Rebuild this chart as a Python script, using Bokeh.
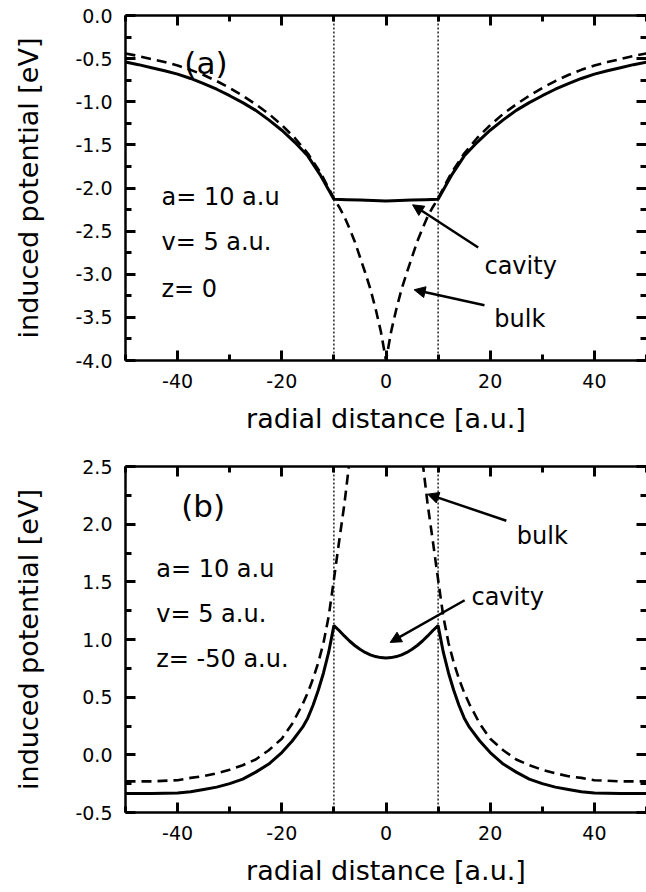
from bokeh.plotting import figure
from bokeh.models import (LinearAxis, FixedTicker, Range1d, Arrow, NormalHead,
                          Span, Label)
from bokeh.layouts import column
from bokeh.embed import file_html
from bokeh.resources import INLINE

FONT = "DejaVu Sans"

# cavity radius a [a.u.]
cavity_radius = 10

# ---- panel (a): z = 0 ----
xa_cavity = [-50, -47.5, -45, -42.5, -40, -37.5, -35, -32.5, -30, -27.5, -25, -22.5,
             -20, -17.5, -15, -12.5, -10, -7.5, -5, -2.5, 0, 2.5, 5, 7.5, 10, 12.5,
             15, 17.5, 20, 22.5, 25, 27.5, 30, 32.5, 35, 37.5, 40, 42.5, 45, 47.5, 50]
ya_cavity = [-0.54, -0.57, -0.605, -0.64, -0.68, -0.73, -0.79, -0.855, -0.93, -1.01,
             -1.10, -1.21, -1.33, -1.47, -1.63, -1.86, -2.13, -2.135, -2.14, -2.145,
             -2.15, -2.145, -2.14, -2.135, -2.13, -1.86, -1.63, -1.47, -1.33, -1.21,
             -1.10, -1.01, -0.93, -0.855, -0.79, -0.73, -0.68, -0.64, -0.605, -0.57,
             -0.54]

xa_bulk = [-50, -47.5, -45, -42.5, -40, -37.5, -35, -32.5, -30, -27.5, -25, -22.5,
           -20, -17.5, -15, -12.5, -10, -9, -8, -7, -6, -5, -4, -3, -2, -1, -0.5, 0,
           0.5, 1, 2, 3, 4, 5, 6, 7, 8, 9, 10, 12.5, 15, 17.5, 20, 22.5, 25, 27.5,
           30, 32.5, 35, 37.5, 40, 42.5, 45, 47.5, 50]
ya_bulk = [-0.44, -0.47, -0.505, -0.54, -0.58, -0.63, -0.69, -0.76, -0.84, -0.93,
           -1.03, -1.14, -1.27, -1.42, -1.60, -1.83, -2.12, -2.22, -2.33, -2.47,
           -2.62, -2.80, -2.98, -3.17, -3.40, -3.66, -3.83, -4.0, -3.83, -3.66,
           -3.40, -3.17, -2.98, -2.80, -2.62, -2.47, -2.33, -2.22, -2.12, -1.83,
           -1.60, -1.42, -1.27, -1.14, -1.03, -0.93, -0.84, -0.76, -0.69, -0.63,
           -0.58, -0.54, -0.505, -0.47, -0.44]

# ---- panel (b): z = -50 a.u. ----
xb_cavity = [-50, -45, -40, -37.5, -35, -32.5, -30, -27.5, -25, -22.5, -20, -18, -16,
             -15, -14, -13, -12, -11, -10, -9, -8, -7, -6, -5, -4, -3, -2, -1, 0,
             1, 2, 3, 4, 5, 6, 7, 8, 9, 10, 11, 12, 13, 14, 15, 16, 18, 20, 22.5,
             25, 27.5, 30, 32.5, 35, 37.5, 40, 45, 50]
yb_cavity = [-0.335, -0.335, -0.33, -0.32, -0.30, -0.28, -0.25, -0.21, -0.15, -0.08,
             0.02, 0.12, 0.24, 0.32, 0.43, 0.56, 0.71, 0.89, 1.12, 1.078, 1.031, 0.987,
             0.948, 0.915, 0.888, 0.867, 0.852, 0.843, 0.84, 0.843, 0.852, 0.867,
             0.888, 0.915, 0.948, 0.987, 1.031, 1.078, 1.12, 0.89, 0.71, 0.56, 0.43,
             0.32, 0.24, 0.12, 0.02, -0.08, -0.15, -0.21, -0.25, -0.28, -0.30, -0.32,
             -0.33, -0.335, -0.335]

xb_bulk = [-50, -45, -40, -37.5, -35, -32.5, -30, -27.5, -25, -22.5, -20, -18, -16,
           -15, -14, -13, -12, -11, -10, -9, -8, -7, -6, 6, 7, 8, 9, 10, 11, 12,
           13, 14, 15, 16, 18, 20, 22.5, 25, 27.5, 30, 32.5, 35, 37.5, 40, 45, 50]
yb_bulk = [-0.23, -0.23, -0.22, -0.20, -0.185, -0.16, -0.13, -0.09, -0.04, 0.04,
           0.14, 0.27, 0.44, 0.54, 0.66, 0.80, 0.97, 1.20, 1.52, 1.85, 2.17, 2.55,
           3.0, 3.0, 2.55, 2.17, 1.85, 1.52, 1.20, 0.97, 0.80, 0.66, 0.54, 0.44,
           0.27, 0.14, 0.04, -0.04, -0.09, -0.13, -0.16, -0.185, -0.20, -0.22,
           -0.23, -0.23]

# ---- ticks ----
x_ticks = [-40, -20, 0, 20, 40]
x_minor = [-50, -30, -10, 10, 30, 50]
x_labels = ["-40", "-20", "0", "20", "40"]

ya_ticks = [0.0, -0.5, -1.0, -1.5, -2.0, -2.5, -3.0, -3.5, -4.0]
ya_minor = [-0.25, -0.75, -1.25, -1.75, -2.25, -2.75, -3.25, -3.75]
ya_labels = ["0.0", "-0.5", "-1.0", "-1.5", "-2.0", "-2.5", "-3.0", "-3.5", "-4.0"]

yb_ticks = [2.5, 2.0, 1.5, 1.0, 0.5, 0.0, -0.5]
yb_minor = [2.25, 1.75, 1.25, 0.75, 0.25, -0.25]
yb_labels = ["2.5", "2.0", "1.5", "1.0", "0.5", "0.0", "-0.5"]


def style_axis(ax, show_labels):
    ax.axis_line_width = 2.5
    ax.axis_line_color = "black"
    ax.major_tick_in = 10
    ax.major_tick_out = 0
    ax.minor_tick_in = 6
    ax.minor_tick_out = 0
    ax.major_tick_line_width = 3
    ax.minor_tick_line_width = 3
    ax.major_tick_line_color = "black"
    ax.minor_tick_line_color = "black"
    if show_labels:
        ax.major_label_text_font = FONT
        ax.major_label_text_font_size = "19px"
        ax.major_label_text_color = "black"
        ax.major_label_standoff = 13
        ax.axis_label_text_font = FONT
        ax.axis_label_text_font_size = "27px"
        ax.axis_label_text_font_style = "normal"
        ax.axis_label_text_color = "black"
    else:
        # mirror axes carry ticks only
        ax.major_label_text_font_size = "1px"
        ax.major_label_text_color = None
        ax.major_label_standoff = 0


def make_panel(height, top, bottom, y_lo, y_hi, yt, ym, ylab):
    p = figure(width=646, height=height, output_backend="svg", toolbar_location=None,
               x_range=Range1d(-50, 50), y_range=Range1d(y_lo, y_hi),
               x_axis_location=None, y_axis_location=None,
               min_border_left=125, min_border_right=0,
               min_border_top=top, min_border_bottom=bottom)
    p.outline_line_color = None
    p.grid.visible = False
    p.background_fill_color = "white"
    p.border_fill_color = "white"

    xt = FixedTicker(ticks=x_ticks, minor_ticks=x_minor)
    ytk = FixedTicker(ticks=yt, minor_ticks=ym)

    bottom_ax = LinearAxis(ticker=xt, axis_label="radial distance [a.u.]",
                           major_label_overrides=dict(zip(x_ticks, x_labels)))
    style_axis(bottom_ax, True)
    bottom_ax.axis_label_standoff = 12
    p.add_layout(bottom_ax, "below")

    left_ax = LinearAxis(ticker=ytk, axis_label="induced potential [eV]",
                         major_label_overrides=dict(zip(yt, ylab)))
    style_axis(left_ax, True)
    left_ax.axis_label_standoff = 28
    p.add_layout(left_ax, "left")

    top_ax = LinearAxis(ticker=xt)
    style_axis(top_ax, False)
    p.add_layout(top_ax, "above")

    right_ax = LinearAxis(ticker=ytk)
    style_axis(right_ax, False)
    right_ax.axis_line_color = None
    p.add_layout(right_ax, "right")

    for xv in (-cavity_radius, cavity_radius):
        p.add_layout(Span(location=xv, dimension="height", line_color="black",
                          line_width=1.3, line_dash="2 2"))
    return p


def label(p, x, y, text, size):
    p.add_layout(Label(x=x, y=y, text=text, text_font=FONT, text_font_size=size,
                       text_color="black", text_align="left",
                       text_baseline="alphabetic"))


def arrow(p, x0, y0, x1, y1):
    p.add_layout(Arrow(x_start=x0, y_start=y0, x_end=x1, y_end=y1,
                       line_width=2.5, line_color="black",
                       end=NormalHead(size=11, fill_color="black",
                                      line_color="black", line_width=1)))


# panel (a)
pa = make_panel(445, 15, 85, -4.0, 0.0, ya_ticks, ya_minor, ya_labels)
pa.line(xa_bulk, ya_bulk, line_color="black", line_width=2.6, line_dash="10 6")
pa.line(xa_cavity, ya_cavity, line_color="black", line_width=3)
label(pa, -38.7, -0.545, "(a)", "31px")
label(pa, -43.1, -2.10, "a= 10 a.u", "24px")
label(pa, -43.1, -2.63, "v= 5 a.u.", "24px")
label(pa, -43.1, -3.17, "z= 0", "24px")
label(pa, 18.9, -2.90, "cavity", "24px")
label(pa, 20.8, -3.52, "bulk", "24px")
arrow(pa, 17.7, -2.69, 5.1, -2.195)
arrow(pa, 18.9, -3.36, 5.4, -3.18)

# panel (b)
pb = make_panel(447, 21, 80, -0.5, 2.5, yb_ticks, yb_minor, yb_labels)
pb.line(xb_bulk, yb_bulk, line_color="black", line_width=2.6, line_dash="10 6")
pb.line(xb_cavity, yb_cavity, line_color="black", line_width=3)
label(pb, -39.3, 2.16, "(b)", "31px")
label(pb, -44.1, 1.61, "a= 10 a.u", "24px")
label(pb, -44.1, 1.22, "v= 5 a.u.", "24px")
label(pb, -44.1, 0.83, "z= -50 a.u.", "24px")
label(pb, 25.1, 1.90, "bulk", "24px")
label(pb, 16.4, 1.37, "cavity", "24px")
arrow(pb, 23.1, 2.03, 8.0, 2.26)
arrow(pb, 15.1, 1.34, 0.8, 0.975)

layout = column(pa, pb, spacing=0)
open("out.html", "w").write(file_html(layout, INLINE))
